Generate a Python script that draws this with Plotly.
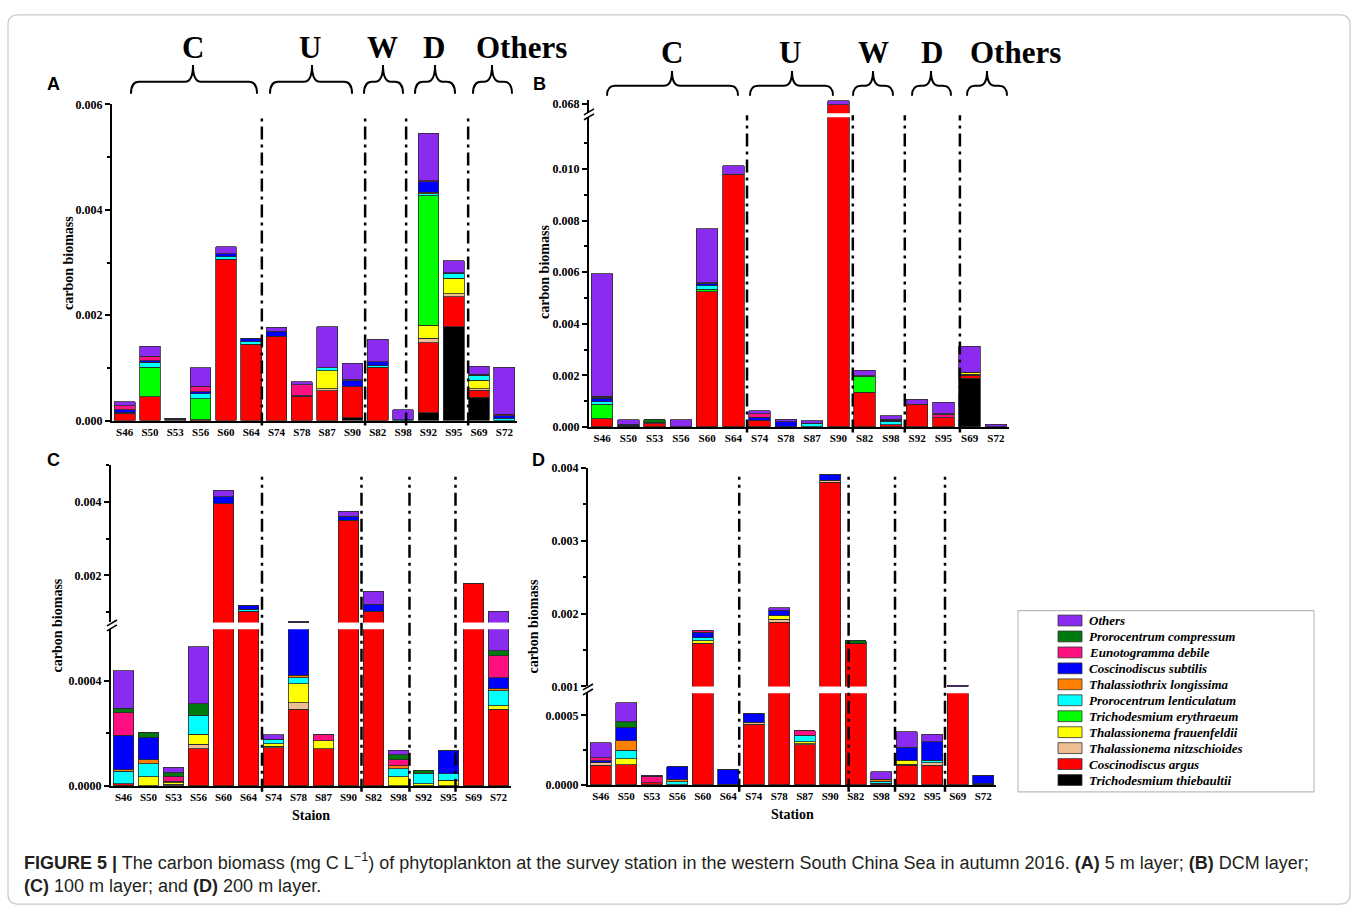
import plotly.graph_objects as go

W, H = 1358, 918

STATIONS = ["S46", "S50", "S53", "S56", "S60", "S64", "S74", "S78",
            "S87", "S90", "S82", "S98", "S92", "S95", "S69", "S72"]
GROUPS = ["C", "U", "W", "D", "Others"]

# stacking order: bottom -> top
SPECIES = ["Trichodesmium thiebaultii", "Coscinodiscus argus", "Thalassionema nitzschioides",
           "Thalassionema frauenfeldii", "Trichodesmium erythraeum", "Prorocentrum lenticulatum",
           "Thalassiothrix longissima", "Coscinodiscus subtilis", "Eunotogramma debile",
           "Prorocentrum compressum", "Others"]
COLORS = ["#000000", "#FF0000", "#EDBE92", "#FFFF00", "#00FF00", "#00FFFF",
          "#FF8000", "#0000FF", "#FF0F80", "#007A0F", "#8B2BF0"]

# ---------------- (A) 5 m layer ----------------
A_TT = [0, 0, 0.00003, 0, 0, 0, 0, 0, 0, 0.00005, 0, 0, 0.00015, 0.00178, 0.00044, 0]
A_CA = [0.00014, 0.00045, 0.00001, 0.00002, 0.00306, 0.00145, 0.0016, 0.00045, 0.00057, 0.00059, 0.00101, 0, 0.00133, 0.00057, 0.00014, 0]
A_TN = [0, 0, 0, 0, 0, 0, 0, 0, 0.00003, 0, 0, 0, 0.00008, 0.00006, 0.00002, 0]
A_TF = [0, 0, 0, 0, 0, 0, 0, 0, 0.00035, 0, 0, 0, 0.00025, 0.00029, 0.00017, 0]
A_TE = [0, 0.00056, 0, 0.00039, 0, 0, 0, 0, 0, 0, 0, 0, 0.00246, 0, 0, 0]
A_PL = [0.00001, 0.0001, 0, 0.0001, 0.00005, 0.00005, 0, 0, 0.00005, 0, 0.00003, 0.00002, 0.00004, 0.00009, 0.00009, 0.00004]
A_TL = [0, 0, 0, 0, 0, 0, 0, 0, 0, 0, 0, 0, 0.00002, 0, 0, 0]
A_CS = [0.00006, 0.00003, 0, 0.00004, 0.00006, 0.00006, 0.0001, 0.00002, 0, 0.00012, 0.00008, 0, 0.0002, 0.00002, 0.00002, 0.00005]
A_ED = [0.00007, 0.00008, 0, 0.0001, 0, 0, 0, 0.00021, 0, 0, 0, 0, 0.00002, 0, 0, 0.00003]
A_PC = [0, 0, 0, 0, 0, 0, 0, 0, 0, 0.00002, 0, 0, 0, 0, 0, 0]
A_OT = [0.00008, 0.00019, 0, 0.00035, 0.00013, 0, 0.00007, 0.00006, 0.00078, 0.00031, 0.00042, 0.00019, 0.0009, 0.00022, 0.00015, 0.00089]

# ---------------- (B) DCM layer ----------------
B_TT = [0, 0.00004, 0, 0, 0, 0, 0, 0, 0, 0, 0, 0, 0, 0, 0.00189, 0]
B_CA = [0.00031, 0, 0.00012, 0, 0.00524, 0.00977, 0.00027, 0, 0, 0.06797, 0.00134, 0.00008, 0.00088, 0.00035, 0.00012, 0]
B_TN = [0, 0, 0, 0, 0, 0, 0, 0, 0, 0, 0, 0, 0, 0, 0.00003, 0]
B_TF = [0, 0, 0, 0, 0, 0, 0, 0, 0, 0, 0, 0, 0, 0, 0.00006, 0]
B_TE = [0.00057, 0, 0, 0, 0.0001, 0, 0, 0, 0, 0, 0.0006, 0, 0, 0, 0, 0]
B_PL = [0.0001, 0, 0, 0, 0.00013, 0, 0, 0, 0.00012, 0, 0, 0.00012, 0, 0, 0.00002, 0]
B_TL = [0, 0, 0, 0, 0, 0, 0, 0, 0, 0, 0, 0, 0, 0, 0, 0]
B_CS = [0.00014, 0.00006, 0, 0.00001, 0.00008, 0, 0.00011, 0.0002, 0.00003, 0, 0, 0.00006, 0, 0, 0, 0.00001]
B_ED = [0.00004, 0, 0.00004, 0, 0, 0.00003, 0.00013, 0, 0, 0, 0, 0.00004, 0, 0.00013, 0, 0]
B_PC = [0.00003, 0, 0.00013, 0, 0.00003, 0, 0, 0, 0, 0, 0.00004, 0, 0, 0.00004, 0, 0]
B_OT = [0.00474, 0.00019, 0, 0.00028, 0.00211, 0.00033, 0.00012, 0.0001, 0.0001, 0.0001, 0.00021, 0.00014, 0.00019, 0.00044, 0.001, 0.00009]

# ---------------- (C) 100 m layer ----------------
C_TT = [0.000003, 0, 0, 0, 0, 0, 0, 0, 0, 0, 0, 0, 0, 0, 0, 0]
C_CA = [0.000005, 0, 0, 0.000142, 0.00395, 0.00102, 0.000145, 0.00029, 0.000142, 0.0035, 0.00103, 0, 0, 0, 0.00177, 0.00029]
C_TN = [0, 0, 0.000006, 0.000017, 0, 0, 0.000006, 0.000025, 0, 0, 0, 0, 0, 0, 0, 0]
C_TF = [0, 0.000034, 0.000006, 0.000037, 0, 0, 0.00001, 0.0000725, 0.000029, 0, 0, 0.000034, 0.000009, 0.000021, 0, 0.000015]
C_TE = [0, 0, 0, 0, 0, 0, 0, 0, 0, 0, 0, 0, 0, 0, 0, 0]
C_PL = [0.000047, 0.00005, 0, 0.000072, 0, 0.00006, 0.000017, 0.0000235, 0, 0, 0, 0.000031, 0.00004, 0.000025, 0, 0.000056]
C_TL = [0.000007, 0.000016, 0.000005, 0, 0, 0, 0, 0.000009, 0, 0, 0, 0.0000125, 0, 0, 0, 0.000008]
C_CS = [0.00013, 0.000084, 0, 0, 0.00019, 0.00011, 0, 0.0003, 0, 0.00011, 0.00018, 0, 0, 0.000088, 0, 0.000042]
C_ED = [0.000085, 0, 0.000019, 0, 0, 0, 0, 0, 0.000025, 0, 0, 0.0000215, 0, 0, 0, 0.000083]
C_PC = [0.000018, 0.000018, 0.000014, 0.000043, 0, 0, 0, 0, 0, 0, 0, 0.0000185, 0.00001, 0, 0.00001, 0.0000185]
C_OT = [0.000142, 0, 0.00002, 0.000217, 0.00017, 0, 0.000017, 0.00003, 0, 0.00013, 0.00036, 0.0000185, 0, 0, 0, 0.0005175]

# ---------------- (D) 200 m layer ----------------
D_TT = [0, 0, 0, 0, 0, 0.000005, 0, 0, 0, 0, 0, 0, 0, 0, 0, 0.00001]
D_CA = [0.00014, 0.000146, 0.000016, 0, 0.00159, 0, 0.000436, 0.00188, 0.000288, 0.0038, 0.00159, 0.000012, 0.000142, 0.000142, 0.000995, 0]
D_TN = [0.000018, 0, 0, 0, 0, 0, 0.00001, 0.000045, 0.000008, 0.00003, 0, 0, 0.000008, 0.000018, 0, 0]
D_TF = [0.000005, 0.000043, 0, 0, 0.00004, 0, 0.000005, 0.000045, 0.000015, 0, 0, 0, 0.000027, 0, 0, 0]
D_TE = [0, 0, 0, 0, 0, 0, 0, 0, 0, 0, 0, 0, 0, 0, 0, 0]
D_PL = [0, 0.000059, 0, 0.000024, 0.00004, 0, 0, 0, 0.000047, 0, 0, 0.000016, 0, 0.000017, 0, 0]
D_TL = [0, 0.00007, 0, 0.000012, 0, 0, 0, 0, 0, 0, 0, 0.000012, 0, 0, 0, 0]
D_CS = [0.000012, 0.000095, 0, 0.000094, 0.000075, 0.000108, 0.000063, 0.000077, 0, 0.00008, 0, 0, 0.000094, 0.000134, 0, 0.00006]
D_ED = [0.000021, 0, 0.000048, 0, 0.00003, 0, 0, 0, 0.000031, 0, 0, 0, 0, 0, 0, 0]
D_PC = [0, 0.00004, 0, 0, 0, 0, 0, 0, 0, 0, 0.00004, 0, 0, 0, 0, 0]
D_OT = [0.000106, 0.000137, 0.000006, 0, 0, 0, 0, 0.000036, 0, 0, 0, 0.000054, 0.000111, 0.000052, 0.00002, 0]

# tick values
A_TICKS = [0, 0.002, 0.004, 0.006]
A_MINOR = [0.001, 0.003, 0.005]
B_TICKS_LOW = [0, 0.002, 0.004, 0.006, 0.008, 0.010]
B_MINOR_LOW = [0.001, 0.003, 0.005, 0.007, 0.009, 0.011]
B_TICKS_UP = [0.068]
C_TICKS_LOW = [0, 0.0004]
C_MINOR_LOW = [0.0002]
C_TICKS_UP = [0.002, 0.004]
C_MINOR_UP = [0.001, 0.003, 0.005]
D_TICKS_LOW = [0, 0.0005]
D_MINOR_LOW = [0.00025]
D_TICKS_UP = [0.001, 0.002, 0.003, 0.004]
D_MINOR_UP = [0.0015, 0.0025, 0.0035]

PANEL_A = [A_TT, A_CA, A_TN, A_TF, A_TE, A_PL, A_TL, A_CS, A_ED, A_PC, A_OT]
PANEL_B = [B_TT, B_CA, B_TN, B_TF, B_TE, B_PL, B_TL, B_CS, B_ED, B_PC, B_OT]
PANEL_C = [C_TT, C_CA, C_TN, C_TF, C_TE, C_PL, C_TL, C_CS, C_ED, C_PC, C_OT]
PANEL_D = [D_TT, D_CA, D_TN, D_TF, D_TE, D_PL, D_TL, D_CS, D_ED, D_PC, D_OT]

SERIF = "Liberation Serif"
SANS = "Liberation Sans"


def px(x):
    return x / W


def py(y):
    return 1 - y / H


def xdom(a, b):
    return [a / W, b / W]


def ydom(top, bottom):
    return [1 - bottom / H, 1 - top / H]


fig = go.Figure()

# (xaxis id, [yaxis ids], values)
panels = [
    ("x", ["y"], PANEL_A),
    ("x2", ["y2", "y3"], PANEL_B),
    ("x3", ["y4", "y5"], PANEL_C),
    ("x4", ["y6", "y7"], PANEL_D),
]
for xa, yas, vals in panels:
    for ya in yas:
        for i, sp in enumerate(SPECIES):
            fig.add_trace(go.Bar(
                x=STATIONS, y=vals[i], xaxis=xa, yaxis=ya, name=sp,
                legendgroup=sp, showlegend=False,
                marker=dict(color=COLORS[i], line=dict(color="#2a2a2a", width=0.8)),
                hovertemplate=sp + "<br>%{x}: %{y}<extra></extra>",
            ))

xtickfont = dict(family=SERIF, size=11, color="black", weight="bold")
ytickfont = dict(family=SERIF, size=12, color="black", weight="bold")


def xaxis(dom, anchor):
    return dict(domain=dom, anchor=anchor, type="category", categoryorder="array",
                categoryarray=STATIONS, range=[-0.5, 15.5], showline=True, linewidth=2,
                linecolor="black", ticks="", tickfont=xtickfont, showgrid=False,
                zeroline=False, fixedrange=True)


def yaxis(dom, anchor, rng, tv, minor, fmt):
    d = dict(domain=dom, anchor=anchor, range=rng, tickvals=tv, tickformat=fmt,
             showline=True, linewidth=2, linecolor="black", ticks="outside",
             ticklen=5, tickwidth=1.5, tickcolor="black", tickfont=ytickfont,
             showgrid=False, zeroline=False, fixedrange=True)
    if minor:
        d["minor"] = dict(tickvals=minor, ticks="outside", ticklen=3,
                          tickwidth=1.5, tickcolor="black", showgrid=False)
    return d


fig.update_layout(
    xaxis=xaxis(xdom(112, 517), "y"),
    yaxis=yaxis(ydom(99, 420), "x", [0, 0.006], A_TICKS, A_MINOR, ".3f"),
    xaxis2=xaxis(xdom(589, 1009), "y2"),
    yaxis2=yaxis(ydom(112, 426.5), "x2", [0, 0.012], B_TICKS_LOW, B_MINOR_LOW, ".3f"),
    yaxis3=yaxis(ydom(94, 108), "x2", [0.06775, 0.0681], B_TICKS_UP, None, ".3f"),
    xaxis3=xaxis(xdom(111, 511), "y4"),
    yaxis4=yaxis(ydom(632, 791), "x3", [0, 0.000594], C_TICKS_LOW, C_MINOR_LOW, ".4f"),
    yaxis5=yaxis(ydom(465, 625), "x3", [0.00072, 0.005], C_TICKS_UP, C_MINOR_UP, ".3f"),
    xaxis4=xaxis(xdom(588, 996), "y6"),
    yaxis6=yaxis(ydom(697, 790), "x4", [0, 0.000658], D_TICKS_LOW, D_MINOR_LOW, ".4f"),
    yaxis7=yaxis(ydom(468, 690), "x4", [0.001, 0.004], D_TICKS_UP, D_MINOR_UP, ".3f"),
)

shapes = []
annotations = []

# outer frame (rounded)
r = 10
x0f, y0f, x1f, y1f = 8, 8, 1350, 911
frame = (f"M {px(x0f + r)},{py(y0f)} L {px(x1f - r)},{py(y0f)} Q {px(x1f)},{py(y0f)} {px(x1f)},{py(y0f + r)} "
         f"L {px(x1f)},{py(y1f - r)} Q {px(x1f)},{py(y1f)} {px(x1f - r)},{py(y1f)} "
         f"L {px(x0f + r)},{py(y1f)} Q {px(x0f)},{py(y1f)} {px(x0f)},{py(y1f - r)} "
         f"L {px(x0f)},{py(y0f + r)} Q {px(x0f)},{py(y0f)} {px(x0f + r)},{py(y0f)} Z")
shapes.append(dict(type="path", xref="paper", yref="paper", path=frame,
                   line=dict(color="#c9c9c9", width=1.2), layer="below"))

# dash-dot group separators (category units) and vertical extent (px)
SEPS = {
    "x": ([5.42, 9.5, 11.12, 13.57], 110, 425),
    "x2": ([5.52, 9.55, 11.53, 13.63], 110, 432),
    "x3": ([5.54, 9.52, 11.44, 13.28], 477, 797),
    "x4": ([5.43, 9.72, 11.54, 13.5], 477, 797),
}
for xa, (pos, ytop, ybot) in SEPS.items():
    for p in pos:
        shapes.append(dict(type="line", xref=xa, yref="paper", x0=p, x1=p,
                           y0=py(ybot), y1=py(ytop),
                           line=dict(color="black", width=2.5, dash="13px,5px,3px,5px")))

# axis break marks
for (xa, yc) in [(589, 109), (112, 628), (588, 693)]:
    for dy in (-2.5, 2.5):
        shapes.append(dict(type="line", xref="paper", yref="paper",
                           x0=px(xa - 5), y0=py(yc + dy + 3), x1=px(xa + 5), y1=py(yc + dy - 3),
                           line=dict(color="black", width=1.6)))


# curly braces and group labels
def brace(x0, tip, x1, yt, ym, yb):
    rr = 8
    return (f"M {px(x0)},{py(yb)} Q {px(x0)},{py(ym)} {px(x0 + rr)},{py(ym)} "
            f"L {px(tip - rr)},{py(ym)} Q {px(tip)},{py(ym)} {px(tip)},{py(yt)} "
            f"Q {px(tip)},{py(ym)} {px(tip + rr)},{py(ym)} "
            f"L {px(x1 - rr)},{py(ym)} Q {px(x1)},{py(ym)} {px(x1)},{py(yb)}")


BRACES_A = [(131, 193, 257), (270, 312, 352), (364, 383, 403), (415, 435, 455), (473, 492, 512)]
LABELS_A = [193, 310, 382, 434, 521]
BRACES_B = [(607, 672, 738), (750, 792, 833), (853, 873, 893), (912, 931, 951), (967, 987, 1007)]
LABELS_B = [672, 790, 873, 932, 1015]
for braces, labels, yt, ym, yb, ylab in [(BRACES_A, LABELS_A, 59, 76, 88, 41),
                                         (BRACES_B, LABELS_B, 65, 80, 90, 46)]:
    for (b0, bt, b1), lx, g in zip(braces, labels, GROUPS):
        shapes.append(dict(type="path", xref="paper", yref="paper",
                           path=brace(b0, bt, b1, yt, ym, yb),
                           line=dict(color="black", width=2)))
        annotations.append(dict(xref="paper", yref="paper", x=px(lx), y=py(ylab),
                                text=g, showarrow=False, xanchor="center", yanchor="middle",
                                font=dict(family=SERIF, size=31, color="black", weight="bold")))

# panel letters
for letter, lx, ly in [("A", 45, 78), ("B", 531, 78), ("C", 45, 460), ("D", 530, 460)]:
    annotations.append(dict(xref="paper", yref="paper", x=px(lx), y=py(ly), text=letter,
                            showarrow=False, xanchor="left", yanchor="middle",
                            font=dict(family=SANS, size=18, color="black", weight="bold")))

# y titles
for tx, ty in [(68, 260), (545, 269), (57, 628), (533, 629)]:
    annotations.append(dict(xref="paper", yref="paper", x=px(tx), y=py(ty),
                            text="carbon biomass", textangle=-90, showarrow=False,
                            xanchor="center", yanchor="middle",
                            font=dict(family=SERIF, size=14, color="black", weight="bold")))
# x titles
for txt, tx, ty in [("Staion", 311, 821), ("Station", 792, 820)]:
    annotations.append(dict(xref="paper", yref="paper", x=px(tx), y=py(ty), text=txt,
                            showarrow=False, xanchor="center", yanchor="middle",
                            font=dict(family=SERIF, size=14, color="black", weight="bold")))

# legend (manual, top = last stacked)
shapes.append(dict(type="rect", xref="paper", yref="paper", x0=px(1018), x1=px(1314),
                   y0=py(797), y1=py(613), line=dict(color="#bdbdbd", width=1.2),
                   fillcolor="white"))
for k, i in enumerate(reversed(range(len(SPECIES)))):
    yc = 623 + 16.2 * k
    shapes.append(dict(type="rect", xref="paper", yref="paper", x0=px(1058), x1=px(1082),
                       y0=py(yc + 5.5), y1=py(yc - 5.5), fillcolor=COLORS[i],
                       line=dict(color="#333333", width=0.8)))
    annotations.append(dict(xref="paper", yref="paper", x=px(1087), y=py(yc), text=SPECIES[i],
                            showarrow=False, xanchor="left", yanchor="middle",
                            font=dict(family=SERIF, size=13, color="black", weight="bold",
                                      style="italic")))

# caption
cap1 = ("<b>FIGURE 5 |</b> The carbon biomass (mg C L<sup>−1</sup>) of phytoplankton at the survey "
        "station in the western South China Sea in autumn 2016. <b>(A)</b> 5 m layer; <b>(B)</b> DCM layer;")
cap2 = "<b>(C)</b> 100 m layer; and <b>(D)</b> 200 m layer."
for txt, ty in [(cap1, 868), (cap2, 893)]:
    annotations.append(dict(xref="paper", yref="paper", x=px(22), y=py(ty), text=txt,
                            showarrow=False, xanchor="left", yanchor="middle",
                            font=dict(family=SANS, size=18, color="#231f20")))

fig.update_layout(
    width=W, height=H, autosize=False,
    margin=dict(l=0, r=0, t=0, b=0),
    paper_bgcolor="white", plot_bgcolor="rgba(0,0,0,0)",
    barmode="stack", bargap=0.18,
    showlegend=False,
    shapes=shapes, annotations=annotations,
)

fig.write_html("out.html")
